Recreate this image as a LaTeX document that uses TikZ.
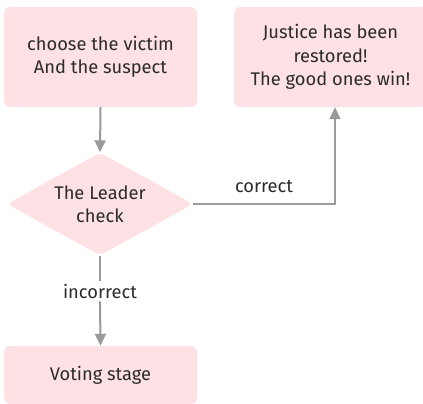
\documentclass[tikz,border=0pt]{standalone}
\usepackage{fontspec}
\setmainfont{Fira Sans}
\usetikzlibrary{shapes.geometric,arrows.meta}
\definecolor{boxfill}{HTML}{FDE1E4}
\definecolor{linegray}{HTML}{9A9A9E}
\definecolor{txt}{HTML}{2B2B2B}
\begin{document}
\begin{tikzpicture}[x=1pt,y=-1pt,
  font=\fontsize{18.3}{23.5}\selectfont,
  boxnode/.style={fill=boxfill,rounded corners=6pt,text=txt,align=center,inner sep=0pt},
  decnode/.style={diamond,shape aspect=1.8,fill=boxfill,rounded corners=5pt,text=txt,align=center,inner sep=0pt,minimum width=186pt,minimum height=103pt},
  lbl/.style={text=txt,inner sep=3pt},
  conn/.style={draw=linegray,line width=2pt},
  arr/.style={conn,-{Triangle[width=11pt,length=12pt]}}
]
\useasboundingbox (0,0) rectangle (423,404);
\node[boxnode,minimum width=193pt,minimum height=100pt] (b1) at (100.5,57) {choose the victim\\And the suspect};
\node[boxnode,minimum width=193pt,minimum height=100pt] (b2) at (330.5,57) {Justice has been\\restored!\\The good ones win!};
\node[decnode] (d) at (100,204) {The Leader\\check};
\node[boxnode,minimum width=193pt,minimum height=58pt] (b3) at (100.5,375) {Voting stage};
\node[lbl] (inc) at (100,291) {incorrect};
\node[lbl] (cor) at (264,187) {correct};
\coordinate (corner) at (335,204);
\draw[arr] (b1.south) -- (d.north);
\draw[conn] (d.south) -- (inc.north);
\draw[arr] (inc.south) -- (b3.north);
\draw[arr] (d.east) -- (corner) -- (b2.south -| corner);
\end{tikzpicture}
\end{document}
